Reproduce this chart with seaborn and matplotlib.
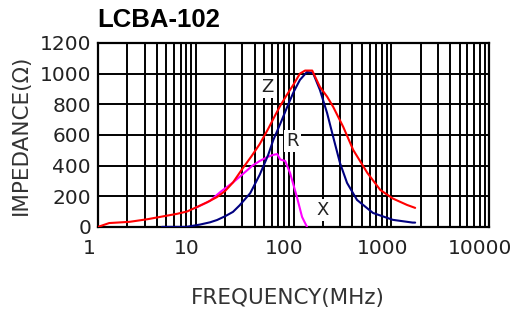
import matplotlib
matplotlib.use("Agg")
import matplotlib.pyplot as plt
from matplotlib.ticker import LogLocator, NullFormatter, FixedLocator
from matplotlib.transforms import ScaledTranslation
import seaborn as sns

# impedance curves
z_freq = [1.0, 1.3, 2.1, 3.2, 4.3, 6.4, 8.1, 10.3, 13, 16.5, 20, 24, 30, 37, 45, 55,
          65, 73, 85, 100, 116, 131, 155, 186, 220, 254, 322, 407, 568, 770, 1035,
          1448, 1750]
z_ohm = [0, 25, 33, 50, 65, 85, 100, 130, 160, 195, 235, 290, 380, 460, 540, 640,
         730, 790, 860, 930, 1000, 1020, 1020, 913, 850, 783, 652, 502, 352, 241, 185,
         143, 124]

r_freq = [4.5, 8, 11, 14, 16.5, 20, 24, 28, 36, 45, 55, 62, 75, 86, 100, 116, 137,
          158, 186, 220, 254, 298, 352, 445, 648, 1035, 1650, 1750]
r_ohm = [0, 0, 15, 30, 45, 70, 98, 140, 220, 340, 470, 567, 690, 783, 880, 959, 1011,
         1004, 893, 743, 587, 417, 287, 176, 91, 46, 28, 28]

x_freq = [10, 14, 18, 24, 28, 38, 45, 54, 62, 68, 73, 82, 92, 108, 122, 137]
x_ohm = [125, 170, 230, 290, 326, 400, 430, 456, 470, 475, 440, 430, 352, 196, 65, 0]

x_ticks = [1, 10, 100, 1000, 10000]
x_ticklabels = ["1", "10", "100", "1000", "10000"]
y_ticks = [0, 200, 400, 600, 800, 1000, 1200]

sns.set_style("white")
plt.rcParams['font.family'] = ['DejaVu Sans']

fig = plt.figure(figsize=(5.16, 3.16), dpi=100)
ax = fig.add_axes([0.190, 0.282, 0.758, 0.582])

sns.lineplot(x=x_freq, y=x_ohm, color="#ff00ff", linewidth=1.5, sort=False, ax=ax, zorder=3)
sns.lineplot(x=r_freq, y=r_ohm, color="#000080", linewidth=1.5, sort=False, ax=ax, zorder=4)
sns.lineplot(x=z_freq, y=z_ohm, color="#ff0000", linewidth=1.5, sort=False, ax=ax, zorder=5)

ax.set_xscale("log")
ax.set_xlim(1, 10000)
ax.set_ylim(0, 1200)
ax.xaxis.set_major_locator(FixedLocator(x_ticks))
ax.set_xticklabels(x_ticklabels)
ax.xaxis.set_minor_locator(LogLocator(base=10, subs=range(2, 10), numticks=20))
ax.xaxis.set_minor_formatter(NullFormatter())
ax.set_yticks(y_ticks)

ax.grid(True, which="both", axis="x", color="black", linewidth=1.4)
ax.grid(True, which="major", axis="y", color="black", linewidth=1.4)
ax.set_axisbelow(True)
for s in ax.spines.values():
    s.set_color("black")
    s.set_linewidth(1.6)

ax.tick_params(axis="both", which="both", length=0, labelsize=14.5, colors="#222222")
ax.tick_params(axis="x", pad=9)
ax.tick_params(axis="y", pad=5)

# the x labels sit a little left of their grid lines in the original
shift = ScaledTranslation(-0.09, 0, fig.dpi_scale_trans)
for lab in ax.get_xticklabels():
    lab.set_transform(lab.get_transform() + shift)

ax.set_xlabel("FREQUENCY(MHz)", fontsize=15.5, color="#333333")
ax.xaxis.set_label_coords(0.485, -0.33)
ax.set_ylabel("IMPEDANCE(Ω)", fontsize=15.5, color="#333333", labelpad=6)

# curve labels with white patches over the grid
box = dict(facecolor="white", edgecolor="none", pad=1.5)
ax.text(54, 915, "Z", fontsize=13, ha="center", va="center", color="#222222", bbox=box, zorder=6)
ax.text(97, 560, "R", fontsize=13, ha="center", va="center", color="#222222", bbox=box, zorder=6)
ax.text(200, 110, "X", fontsize=13, ha="center", va="center", color="#222222", bbox=box, zorder=6)

fig.text(0.188, 0.915, "LCBA-102", fontsize=18.5, fontweight="bold",
         family="Liberation Sans", ha="left", va="baseline", color="black")

fig.savefig("out.png", dpi=100)
